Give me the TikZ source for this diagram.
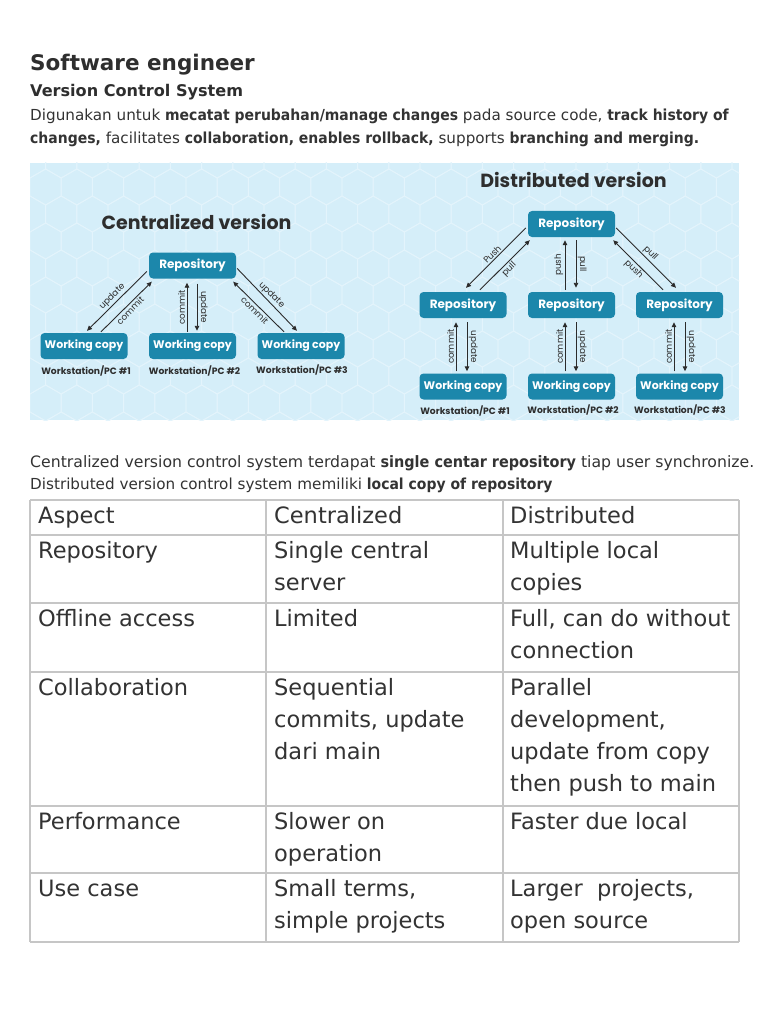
\documentclass[tikz,border=0pt]{standalone}
\usepackage{fontspec}
\setmainfont{DejaVu Sans}[BoldFeatures={FakeStretch=0.92}]
\newfontfamily\tabfont{DejaVu Sans}
\newfontfamily\headfont{DejaVu Sans Bold}
\newfontfamily\dg{Poppins}
\usetikzlibrary{arrows.meta}
\definecolor{txt}{HTML}{333333}
\definecolor{ttl}{HTML}{2E2E2E}
\definecolor{gridc}{HTML}{C6C6C6}
\definecolor{bgblue}{HTML}{D5EEF9}
\definecolor{hexc}{HTML}{E3F4FC}
\definecolor{boxc}{HTML}{1C87AB}
\definecolor{arrc}{HTML}{2B2B2B}
\newcommand\tabline[4]{\node[cell] (#1) at (#2,#3) {#4};}
\begin{document}
\begin{tikzpicture}[x=1pt,y=-1pt,
  line/.style={anchor=base west, inner sep=0, text=txt, font=\fontsize{15.2}{18}\selectfont},
  cell/.style={anchor=base west, inner sep=0, text=txt, font=\tabfont\fontsize{22.5}{32}\selectfont},
  vbox/.style={fill=boxc, rounded corners=4pt, text=white, font=\dg\bfseries\fontsize{12}{14}\selectfont, minimum width=87pt, minimum height=26pt, inner sep=0},
  wbox/.style={vbox, font=\dg\bfseries\fontsize{11}{13}\selectfont},
  dtitle/.style={text=ttl, font=\dg\bfseries\fontsize{19}{22}\selectfont, inner sep=0},
  ws/.style={text=ttl, font=\dg\bfseries\fontsize{9.2}{11}\selectfont, inner sep=0},
  arr/.style={draw=arrc, line width=0.9pt, -{Triangle[length=5pt,width=4.5pt]}},
  lab/.style={text=arrc, font=\dg\fontsize{8.8}{10}\selectfont, inner sep=1.5pt},
  gridline/.style={draw=gridc, line width=1.5pt},
]
\useasboundingbox (0,0) rectangle (768,1024);
\fill[white] (0,0) rectangle (768,1024);

% headings and paragraph
\node[anchor=base west, inner sep=0, text=ttl, font=\headfont\fontsize{21.5}{24}\selectfont] (title) at (30,70.7) {Software engineer};
\node[anchor=base west, inner sep=0, text=ttl, font=\headfont\fontsize{16.1}{19}\selectfont] (sub) at (30,96.3) {Version Control System};
\node[line] (p1) at (30,120.7) {Digunakan untuk \textbf{mecatat perubahan/manage changes} pada source code, \textbf{track history of}};
\node[line] (p2) at (30,144) {\textbf{changes,} facilitates \textbf{collaboration, enables rollback,} supports \textbf{branching and merging.}};

% diagram background
\fill[bgblue] (30,163) rectangle (739,420);
\begin{scope}
\clip (30,163) rectangle (739,420);
\foreach \r in {0,...,10} {
  \foreach \c in {0,...,23} {
    \pgfmathsetmacro\cx{30+\c*31.2+mod(\r,2)*15.6}
    \pgfmathsetmacro\cy{160+\r*27}
    \draw[hexc, line width=0.9pt] (\cx,\cy) +(30:18) -- +(90:18) -- +(150:18) -- +(210:18) -- +(270:18) -- +(330:18) -- cycle;
  }
}
\end{scope}

% centralized
\node[dtitle] (ctitle) at (196.5,222) {Centralized version};
\node[vbox] (cr) at (192.5,265.5) {Repository};
\node[wbox] (cw1) at (84,346) {Working copy};
\node[wbox] (cw2) at (192.5,346) {Working copy};
\node[wbox] (cw3) at (301,346) {Working copy};
\node[ws] (cs1) at (86,370.5) {Workstation/PC \#1};
\node[ws] (cs2) at (194.5,370.5) {Workstation/PC \#2};
\node[ws] (cs3) at (302,369.5) {Workstation/PC \#3};

\draw[arr] ([shift={(-2,6)}]cr.west) -- node[lab, pos=.5, rotate=45, anchor=south] (cl1) {update} ([shift={(3,-2)}]cw1.north);
\draw[arr] ([shift={(17,-1)}]cw1.north) -- node[lab, pos=.5, rotate=45, anchor=north] (cl2) {commit} ([shift={(3,3)}]cr.south west);
\draw[arr] ([shift={(-5.5,-1)}]cw2.north) -- node[lab, pos=.5, rotate=90, anchor=south] (cl3) {commit} ([shift={(-5.5,4)}]cr.south);
\draw[arr] ([shift={(4.5,5)}]cr.south) -- node[lab, pos=.5, rotate=-90, anchor=south] (cl4) {update} ([shift={(4.5,-2)}]cw2.north);
\draw[arr] ([shift={(1,3)}]cr.east) -- node[lab, pos=.5, rotate=-45, anchor=south] (cl5) {update} ([shift={(-4,-2)}]cw3.north);
\draw[arr] ([shift={(-17,-1)}]cw3.north) -- node[lab, pos=.5, rotate=-45, anchor=north] (cl6) {commit} ([shift={(-3,3)}]cr.south east);

% distributed
\node[dtitle] (dtitle) at (573.5,180) {Distributed version};
\node[vbox] (dr) at (571.5,224) {Repository};
\node[vbox] (dm1) at (463,305) {Repository};
\node[vbox] (dm2) at (571.5,305) {Repository};
\node[vbox] (dm3) at (679.5,305) {Repository};
\node[wbox] (dw1) at (463,386.5) {Working copy};
\node[wbox] (dw2) at (571.5,386.5) {Working copy};
\node[wbox] (dw3) at (679.5,386.5) {Working copy};
\node[ws] (ds1) at (465,410.5) {Workstation/PC \#1};
\node[ws] (ds2) at (573,410) {Workstation/PC \#2};
\node[ws] (ds3) at (680,409.5) {Workstation/PC \#3};

\draw[arr] ([shift={(-2,4)}]dr.west) -- node[lab, pos=.5, rotate=45, anchor=south] (dl1) {Push} ([shift={(3,-4)}]dm1.north);
\draw[arr] ([shift={(17,-2)}]dm1.north) -- node[lab, pos=.5, rotate=45, anchor=north] (dl2) {pull} ([shift={(2,3)}]dr.south west);
\draw[arr] ([shift={(-6.5,-2)}]dm2.north) -- node[lab, pos=.5, rotate=90, anchor=south] (dl3) {push} ([shift={(-6.5,3)}]dr.south);
\draw[arr] ([shift={(4.5,3)}]dr.south) -- node[lab, pos=.5, rotate=-90, anchor=south] (dl4) {pull} ([shift={(4.5,-4)}]dm2.north);
\draw[arr] ([shift={(1,4)}]dr.east) -- node[lab, pos=.5, rotate=-45, anchor=south] (dl5) {pull} ([shift={(-3.5,-4)}]dm3.north);
\draw[arr] ([shift={(-16.5,-2)}]dm3.north) -- node[lab, pos=.5, rotate=-45, anchor=north] (dl6) {push} ([shift={(-2,3)}]dr.south east);

\draw[arr] ([shift={(-7,-2)}]dw1.north) -- node[lab, pos=.5, rotate=90, anchor=south] (dc1) {commit} ([shift={(-7,4)}]dm1.south);
\draw[arr] ([shift={(4,4)}]dm1.south) -- node[lab, pos=.5, rotate=-90, anchor=south] (du1) {update} ([shift={(4,-2)}]dw1.north);
\draw[arr] ([shift={(-6.5,-2)}]dw2.north) -- node[lab, pos=.5, rotate=90, anchor=south] (dc2) {commit} ([shift={(-6.5,4)}]dm2.south);
\draw[arr] ([shift={(4.5,4)}]dm2.south) -- node[lab, pos=.5, rotate=-90, anchor=south] (du2) {update} ([shift={(4.5,-2)}]dw2.north);
\draw[arr] ([shift={(-5.5,-2)}]dw3.north) -- node[lab, pos=.5, rotate=90, anchor=south] (dc3) {commit} ([shift={(-5.5,4)}]dm3.south);
\draw[arr] ([shift={(5.5,4)}]dm3.south) -- node[lab, pos=.5, rotate=-90, anchor=south] (du3) {update} ([shift={(5.5,-2)}]dw3.north);

% text under diagram
\node[line, font=\fontsize{15.7}{18}\selectfont] (p3) at (30,467) {Centralized version control system terdapat \textbf{single centar repository} tiap user synchronize.};
\node[line] (p4) at (30,489) {Distributed version control system memiliki \textbf{local copy of repository}};

% table grid
\foreach \yy in {500,535,603,672,806,873,942} \draw[gridline] (30,\yy) -- (739,\yy);
\foreach \xx in {30,266,503,739} \draw[gridline] (\xx,500) -- (\xx,942);

% table text
\tabline{t11}{38}{523}{Aspect}
\tabline{t12}{274}{523}{Centralized}
\tabline{t13}{510}{523}{Distributed}
\tabline{t21}{38}{558}{Repository}
\tabline{t22a}{274}{558}{Single central}
\tabline{t22b}{274}{590}{server}
\tabline{t23a}{510}{558}{Multiple local}
\tabline{t23b}{510}{590}{copies}
\tabline{t31}{38}{626}{Offline access}
\tabline{t32}{274}{626}{Limited}
\tabline{t33a}{510}{626}{Full, can do without}
\tabline{t33b}{510}{658}{connection}
\tabline{t41}{38}{695}{Collaboration}
\tabline{t42a}{274}{695}{Sequential}
\tabline{t42b}{274}{727}{commits, update}
\tabline{t42c}{274}{759}{dari main}
\tabline{t43a}{510}{695}{Parallel}
\tabline{t43b}{510}{727}{development,}
\tabline{t43c}{510}{759}{update from copy}
\tabline{t43d}{510}{791}{then push to main}
\tabline{t51}{38}{829}{Performance}
\tabline{t52a}{274}{829}{Slower on}
\tabline{t52b}{274}{861}{operation}
\tabline{t53}{510}{829}{Faster due local}
\tabline{t61}{38}{896}{Use case}
\tabline{t62a}{274}{896}{Small terms,}
\tabline{t62b}{274}{928}{simple projects}
\tabline{t63a}{510}{896}{Larger\ \ projects,}
\tabline{t63b}{510}{928}{open source}
\end{tikzpicture}
\end{document}
